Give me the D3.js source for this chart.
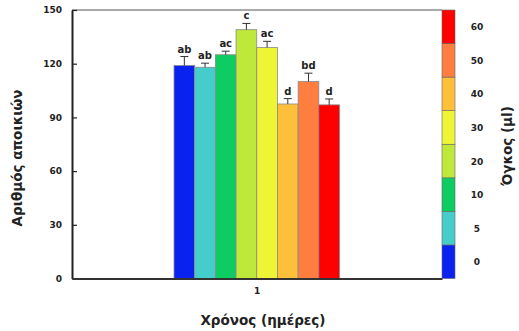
<!DOCTYPE html>
<html><head><meta charset="utf-8">
<script src="https://cdn.jsdelivr.net/npm/d3@7"></script>
<style>body{margin:0;background:#fff}svg{display:block}text{font-family:"DejaVu Sans",Verdana,sans-serif;font-weight:bold;fill:#222}</style>
</head><body><svg id="c" width="519" height="331"></svg>
<script>
const volumes = ["0","5","10","20","30","40","50","60"];
const values = [119, 118, 125, 139, 129, 97.5, 110, 97];
const errors = [5, 2.3, 2, 3.5, 3.5, 3, 4.7, 3.3];
const letters = ["ab","ab","ac","c","ac","d","bd","d"];
const colors = ["#0a22f0","#45cdcc","#0ccc62","#bfe93a","#eef535","#fec03a","#fd7e3f","#fd0000"];
const yTicks = [0,30,60,90,120,150];
const xCats = ["1"];

const svg = d3.select("#c");
const L=72, R=442, T=10, B=278.5;
const y = d3.scaleLinear().domain([0,150]).range([B,T]);
const xg = d3.scaleBand().domain(xCats).range([L,R]);
const xb = d3.scaleBand().domain(volumes).range([174,339.5]).padding(0);

// frame top line
svg.append("line").attr("x1",L).attr("x2",R).attr("y1",T).attr("y2",T).attr("stroke","#555").attr("stroke-width",1);

// bars
const g = svg.append("g");
volumes.forEach((v,i)=>{
  const x0 = xb(v), w = xb.bandwidth();
  g.append("rect").attr("x",x0).attr("y",y(values[i])).attr("width",w).attr("height",B-y(values[i]))
    .attr("fill",colors[i]).attr("stroke","#8a8a8a").attr("stroke-width",0.8);
  const cx = x0+w/2;
  g.append("line").attr("x1",cx).attr("x2",cx).attr("y1",y(values[i])).attr("y2",y(values[i]+errors[i])).attr("stroke","#333").attr("stroke-width",1);
  g.append("line").attr("x1",cx-4).attr("x2",cx+4).attr("y1",y(values[i]+errors[i])).attr("y2",y(values[i]+errors[i])).attr("stroke","#333").attr("stroke-width",1);
  g.append("text").attr("x",cx).attr("y",y(values[i]+errors[i])-4).attr("text-anchor","middle").attr("font-size",10).text(letters[i]);
});

// y axis
const yAxis = d3.axisLeft(y).tickValues(yTicks).tickSizeInner(-5).tickSizeOuter(0).tickPadding(10);
const ya = svg.append("g").attr("transform",`translate(${L},0)`).call(yAxis);
ya.select(".domain").attr("stroke","#222").attr("stroke-width",2);
ya.selectAll(".tick line").attr("stroke","#222").attr("stroke-width",1.2);
ya.selectAll(".tick text").attr("font-size",9).attr("font-family","DejaVu Sans").attr("font-weight","bold").attr("fill","#222");

// x axis
const xAxis = d3.axisBottom(xg).tickSize(0).tickPadding(9);
const xa = svg.append("g").attr("transform",`translate(0,${B})`).call(xAxis);
xa.select(".domain").attr("stroke","#333").attr("stroke-width",2);
xa.selectAll(".tick text").attr("font-size",9).attr("font-family","DejaVu Sans").attr("font-weight","bold").attr("fill","#222");

// titles
svg.append("text").attr("x",263).attr("y",325).attr("text-anchor","middle").attr("font-size",13.5).text("Χρόνος (ημέρες)");
svg.append("text").attr("transform","translate(22,158) rotate(-90)").attr("text-anchor","middle").attr("font-size",13.5).text("Αριθμός αποικιών");

// colorbar
const cb = d3.scaleBand().domain(volumes.slice().reverse()).range([T,B]);
volumes.forEach((v,i)=>{
  svg.append("rect").attr("x",442).attr("y",cb(v)).attr("width",13).attr("height",cb.bandwidth())
    .attr("fill",colors[i]).attr("stroke","#666").attr("stroke-width",0.6);
  svg.append("text").attr("x",477).attr("y",cb(v)+cb.bandwidth()/2+3.5).attr("text-anchor","middle").attr("font-size",9).text(v);
});
svg.append("text").attr("transform","translate(512,146) rotate(-90)").attr("text-anchor","middle").attr("font-size",13.5).text("Όγκος (μl)");
</script></body></html>
